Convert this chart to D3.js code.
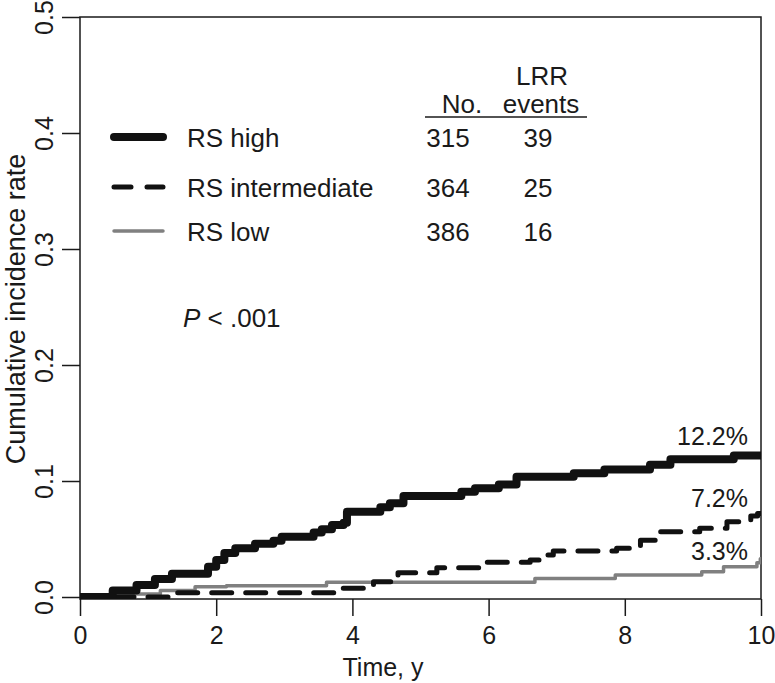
<!DOCTYPE html>
<html>
<head>
<meta charset="utf-8">
<script src="https://cdn.jsdelivr.net/npm/d3@7"></script>
<style>
  body { margin: 0; background: #fff; }
  svg text { font-family: "Liberation Sans", Arial, sans-serif; fill: #1a1a1a; }
</style>
</head>
<body>
<div class="chartcontainer"></div>
<script>
// step curve data
const timeHigh = [0, 0.48, 0.83, 1.1, 1.35, 1.88, 2.0, 2.12, 2.28, 2.57, 2.84, 2.96, 3.43, 3.55, 3.7, 3.87, 3.92, 4.41, 4.55, 4.75, 5.6, 5.8, 6.15, 6.41, 7.25, 7.7, 8.37, 8.67, 9.6, 10]
const incHigh = [0, 0.0055, 0.0103, 0.0155, 0.02, 0.026, 0.032, 0.038, 0.042, 0.046, 0.0485, 0.052, 0.0555, 0.0584, 0.062, 0.064, 0.0735, 0.0773, 0.0808, 0.087, 0.0908, 0.0937, 0.097, 0.1037, 0.1066, 0.110, 0.114, 0.1187, 0.122, 0.122]

const timeInt = [0, 1.4, 3.82, 4.31, 4.67, 5.24, 5.92, 6.61, 6.83, 6.95, 7.88, 8.23, 8.45, 9.1, 9.5, 9.85, 9.95, 10]
const incInt = [0, 0.0037, 0.0075, 0.0132, 0.021, 0.0253, 0.0299, 0.0319, 0.0362, 0.0397, 0.042, 0.049, 0.0563, 0.0592, 0.0649, 0.0698, 0.072, 0.072]

const timeLow = [0, 0.51, 1.18, 1.69, 2.15, 3.62, 6.68, 7.86, 9.13, 9.45, 9.94, 9.99, 10]
const incLow = [0, 0.0026, 0.0055, 0.0089, 0.0098, 0.0127, 0.016, 0.019, 0.0218, 0.026, 0.0296, 0.033, 0.033]

const groupLabels = ['RS high', 'RS intermediate', 'RS low']
const groupNo = [315, 364, 386]
const groupEvents = [39, 25, 16]
const endLabels = ['12.2%', '7.2%', '3.3%']

const xTicks = [0, 2, 4, 6, 8, 10]
const yTicks = [0.0, 0.1, 0.2, 0.3, 0.4, 0.5]

const w = 775
const h = 683
const fs = 25
const legFs = 26

const xScale = d3.scaleLinear().domain([0, 10]).range([80, 761])
const yScale = d3.scaleLinear().domain([0, 0.5]).range([597, 17])
const frameBottom = 599

const styles = [
    { color: '#111', width: 8, dash: null },
    { color: '#111', width: 5, dash: '20,14' },
    { color: '#808080', width: 3.5, dash: null }
]

const svg = d3.select('.chartcontainer')
    .append('svg')
    .attr('width', w)
    .attr('height', h)

svg.append('clipPath')
    .attr('id', 'plotclip')
    .append('rect')
    .attr('x', xScale(0))
    .attr('y', yScale(0.5))
    .attr('width', xScale(10) - xScale(0))
    .attr('height', frameBottom - yScale(0.5))

// axes
const xAxis = d3.axisBottom(xScale).tickValues(xTicks).tickSize(17).tickPadding(6).tickFormat(d3.format('d'))
const yAxis = d3.axisLeft(yScale).tickValues(yTicks).tickSize(18).tickFormat(d3.format('.1f'))

const gx = svg.append('g')
    .attr('transform', 'translate(0,' + frameBottom + ')')
    .call(xAxis)
gx.select('.domain').remove()
gx.selectAll('line').attr('stroke', '#1a1a1a').attr('stroke-width', 1.5)
gx.selectAll('text')
    .attr('font-size', fs)
    .attr('dy', null)
    .attr('y', 45)

const gy = svg.append('g')
    .attr('transform', 'translate(' + xScale(0) + ',0)')
    .call(yAxis)
gy.select('.domain').remove()
gy.selectAll('line').attr('stroke', '#1a1a1a').attr('stroke-width', 1.5)
gy.selectAll('text')
    .attr('font-size', fs)
    .attr('text-anchor', 'middle')
    .attr('x', null)
    .attr('dy', null)
    .attr('transform', 'translate(-27,0) rotate(-90)')

svg.selectAll('.tick text').style('font-family', '"Liberation Sans", Arial, sans-serif').attr('fill', '#1a1a1a')

// frame
svg.append('rect')
    .attr('x', xScale(0))
    .attr('y', yScale(0.5))
    .attr('width', xScale(10) - xScale(0))
    .attr('height', frameBottom - yScale(0.5))
    .attr('fill', 'none')
    .attr('stroke', '#1a1a1a')
    .attr('stroke-width', 1.5)

// curves
const series = [
    timeHigh.map((t, i) => [t, incHigh[i]]),
    timeInt.map((t, i) => [t, incInt[i]]),
    timeLow.map((t, i) => [t, incLow[i]])
]

const line = d3.line()
    .x(d => xScale(d[0]))
    .y(d => yScale(d[1]))
    .curve(d3.curveStepAfter)

const order = [2, 1, 0]
order.forEach(k => {
    svg.append('path')
        .attr('d', line(series[k]))
        .attr('clip-path', 'url(#plotclip)')
        .attr('fill', 'none')
        .attr('stroke', styles[k].color)
        .attr('stroke-width', styles[k].width)
        .attr('stroke-linecap', 'round')
        .attr('stroke-linejoin', 'round')
        .attr('stroke-dasharray', styles[k].dash)
})

// end labels
const endY = [445, 507, 560]
endLabels.forEach((lab, i) => {
    svg.append('text')
        .text(lab)
        .attr('x', 748)
        .attr('y', endY[i])
        .attr('text-anchor', 'end')
        .attr('font-size', fs)
})

// legend
const legY = [137, 187, 231]
groupLabels.forEach((lab, i) => {
    svg.append('line')
        .attr('x1', 114).attr('x2', 163)
        .attr('y1', legY[i]).attr('y2', legY[i])
        .attr('stroke', styles[i].color)
        .attr('stroke-width', styles[i].width)
        .attr('stroke-linecap', 'round')
        .attr('stroke-dasharray', i == 1 ? '17,16' : null)
    svg.append('text')
        .text(lab)
        .attr('x', 187)
        .attr('y', legY[i] + 10)
        .attr('font-size', legFs)
    svg.append('text')
        .text(groupNo[i])
        .attr('x', 448)
        .attr('y', legY[i] + 10)
        .attr('text-anchor', 'middle')
        .attr('font-size', legFs)
    svg.append('text')
        .text(groupEvents[i])
        .attr('x', 538)
        .attr('y', legY[i] + 10)
        .attr('text-anchor', 'middle')
        .attr('font-size', legFs)
})

svg.append('text').text('No.').attr('x', 462).attr('y', 113).attr('text-anchor', 'middle').attr('font-size', legFs)
svg.append('text').text('LRR').attr('x', 542).attr('y', 85).attr('text-anchor', 'middle').attr('font-size', legFs)
svg.append('text').text('events').attr('x', 541).attr('y', 113).attr('text-anchor', 'middle').attr('font-size', legFs)
svg.append('line')
    .attr('x1', 425).attr('x2', 587)
    .attr('y1', 117).attr('y2', 117)
    .attr('stroke', '#1a1a1a')
    .attr('stroke-width', 1.5)

// p value
const pText = svg.append('text')
    .attr('x', 183)
    .attr('y', 327)
    .attr('font-size', legFs)
pText.append('tspan').text('P').attr('font-style', 'italic')
pText.append('tspan').text(' < .001')

// axis titles
svg.append('text')
    .text('Time, y')
    .attr('x', 383)
    .attr('y', 676)
    .attr('text-anchor', 'middle')
    .attr('font-size', fs)

svg.append('text')
    .text('Cumulative incidence rate')
    .attr('transform', 'translate(25,309) rotate(-90)')
    .attr('text-anchor', 'middle')
    .attr('font-size', 27)
</script>
</body>
</html>
